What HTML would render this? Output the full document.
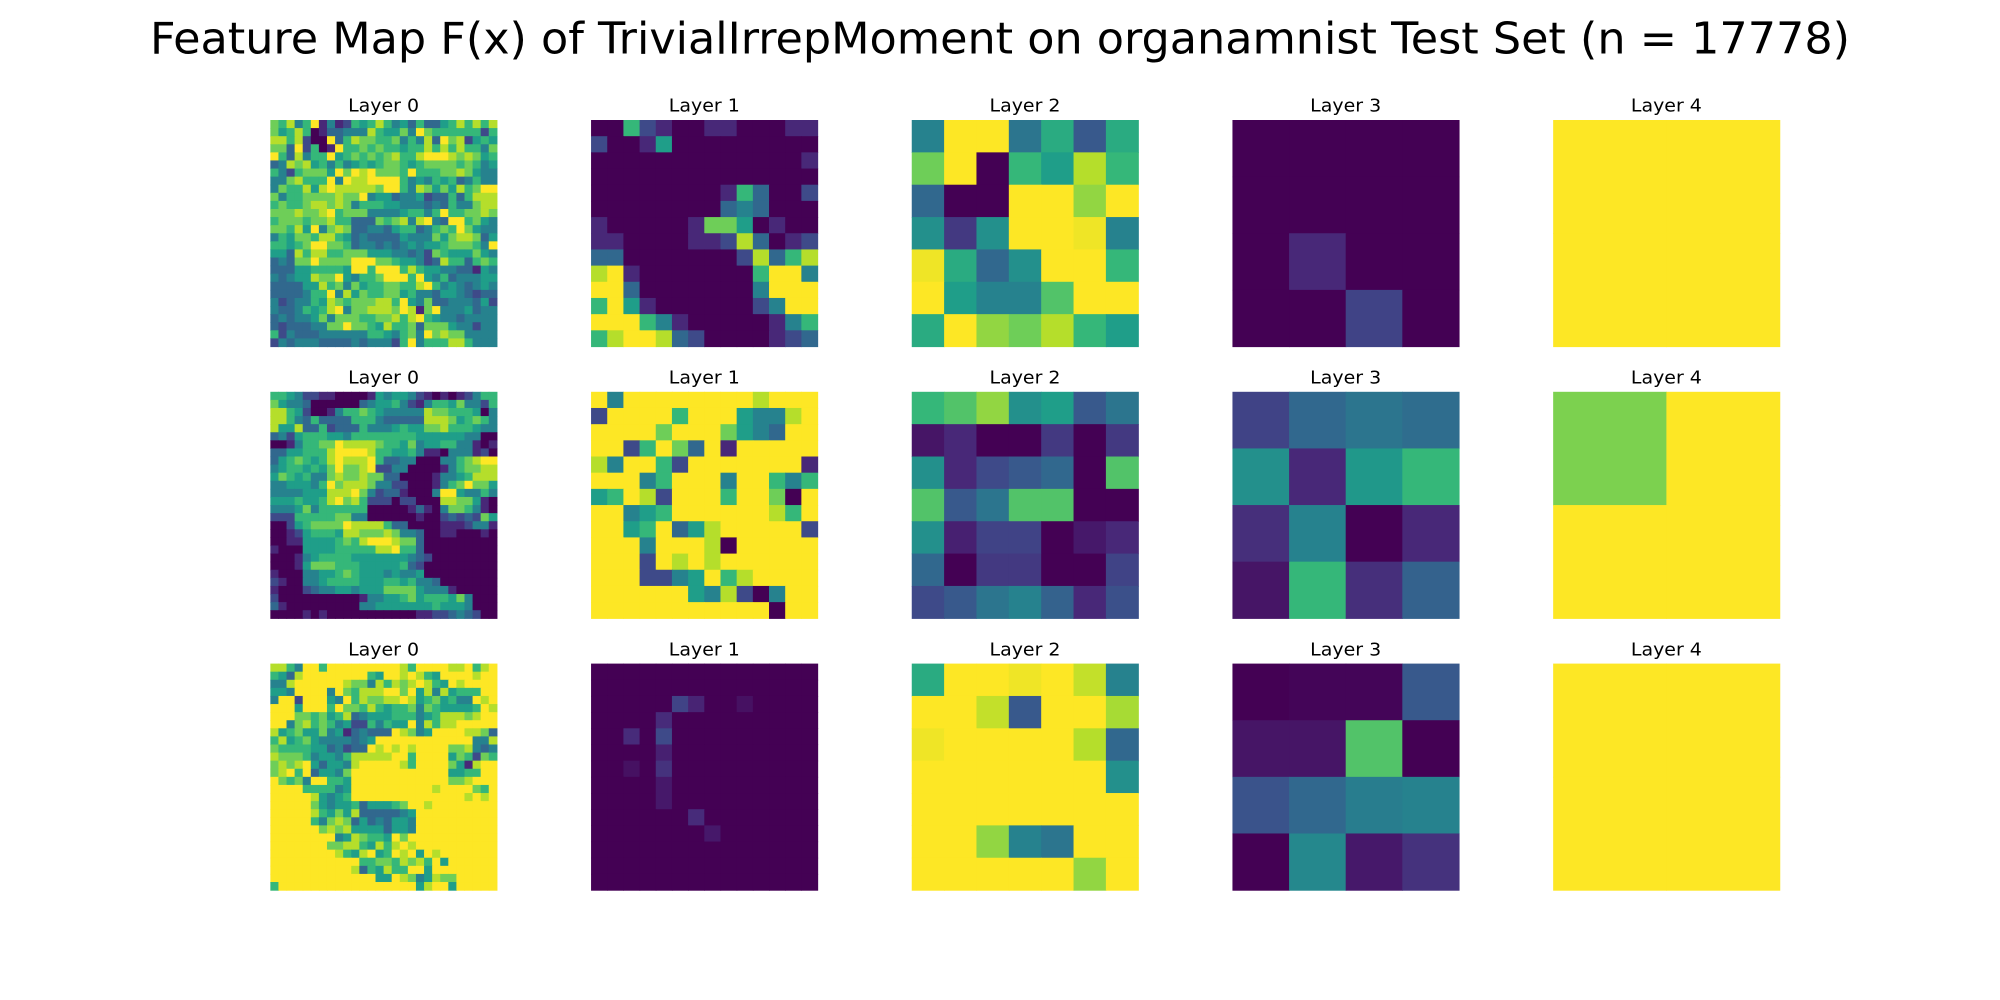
<!DOCTYPE html>
<html><head><meta charset="utf-8">
<style>html,body{margin:0;padding:0;background:#fff;}svg{display:block;}</style>
</head><body>
<svg id="fig" xmlns="http://www.w3.org/2000/svg" width="2000" height="1000" viewBox="0 0 2000 1000">
<rect width="2000" height="1000" fill="#fff"/>
<text x="1000" y="53.3" text-anchor="middle" font-family="DejaVu Sans, Liberation Sans, sans-serif" font-size="43.4" fill="#000" textLength="1700" lengthAdjust="spacingAndGlyphs">Feature Map F(x) of TrivialIrrepMoment on organamnist Test Set (n = 17778)</text>
</svg>
<script>
// Values on a 0..9 scale (digit strings per row)
const r0l0 = ["7684691412656864536335686868","7568601334448655749766666626","8868200936877667464839782565","7739260196676766566868686647","9638466956767678668999878756","3487856464565677656777767645","6426777597989777696667787544","4478666949889999645465634644","4766858988888799648757586799","7466777787794553445233636888","6766788787466655444343644788","7778778967774444566469667787","6777677866333767848943996754","7768594787334435663467697544","4657768865343333544475788735","6656799776344343454556777649","5538688667775554434276555754","3437797777999776554238663676","3335566665996999686554433154","4345587795466799969546344455","3333558674756677668964543454","3333466948576677564435543233","4234465876777886954733444352","4334656894778887981794445344","3434457477766778689654434444","3233344779776586673777544244","6243334444446654674978774444","2434443333434442694666886444"];
const r1l0 = ["6654221100001545542101012466","7544300000034556421466574426","8865200146676544444877666504","8864363333666433333888756764","8558336233364445655778666544","3425666554666666665555554400","0014667798888766574556644101","3355666899998665564110444120","3567656898889633440004467899","4566565797789224400001467788","5765644787787733000014456888","4455546978887442200014679775","4444555888974233100049954464","5556556897862220220008877510","4445746666660000013104776410","2226666677440000001002323275","0025677779888863300001112441","0012566658877787443001100010","0011555567689998773000000000","1000555566666889663000000000","0001456666555555543200000000","0001577766655555632000000000","1000445567655545445000000000","2100445666655566564430000000","1000234455455577775444100000","2000000000014455675666574000","3100000000044555555565554000","0000101000000000001122343200"];
const r2l0 = ["8864996999999999869999889689","6538999999996599898659999899","4489999998774868789865989999","5549999497688899795848566699","4992999549687788985675644989","9995999697768656674765555698","9997767568345556664568887899","9947867645226465594868899999","8567557451343339874599998873","6856754444345999999999999448","7666655342339898989999778434","8777645546888889969999576276","7878953554899999869999751899","7896935547999999999999556699","9767499665999999999999778999","9999666645999999999989999769","9999985456999999999999998989","9999975455635556799899999999","9999986575833333459999999999","9999964787353435549999999999","9999997878555535549999999999","9999999945876659799999999999","9999999778865868989999999999","9999999986589569895989999999","9999999999966776878695999999","9999999999836586699599999999","9999999999999559874587799999","6999999999999999995899599999"];
const r0l1 = ["00621001100011","20015000000000","00000000000001","00000000000000","00000000163002","00000000343000","10000017750100","11000011283012","33000000028368","89100000006994","99300000004999","69510000002499","99964100000146","68998320000123"];
const r1l1 = ["94999999998999","29999699954489","99997999754399","99269739199999","84996299999991","99946999499646","56982999699709","99456999999869","99569358999992","99949998099999","99929898999999","99922459689999","99999954820499","99999999999099"];
const r2l1 = [
 [0,0,0,0,0,0,0,0,0,0,0,0,0,0],
 [0,0,0,0,0,0,0,0,0,0,0,0,0,0],
 [0,0,0,0,0,1.8,0.9,0,0,0.4,0,0,0,0],
 [0,0,0,0,1.1,0,0,0,0,0,0,0,0,0],
 [0,0,1.1,0,2,0,0,0,0,0,0,0,0,0],
 [0,0,0,0,0.8,0,0,0,0,0,0,0,0,0],
 [0,0,0.4,0,1.3,0,0,0,0,0,0,0,0,0],
 [0,0,0,0,0.6,0,0,0,0,0,0,0,0,0],
 [0,0,0,0,0.6,0,0,0,0,0,0,0,0,0],
 [0,0,0,0,0,0,1.1,0,0,0,0,0,0,0],
 [0,0,0,0,0,0,0,0.6,0,0,0,0,0,0],
 [0,0,0,0,0,0,0,0,0,0,0,0,0,0],
 [0,0,0,0,0,0,0,0,0,0,0,0,0,0],
 [0,0,0,0,0,0,0,0,0,0,0,0,0,0]];
const r0l2 = [[4,9,9,3.5,5.5,2.5,5.5],[7,9,0,6,5,8,6],[3,0,0,9,9,7.5,9],[4.5,1.5,4.5,9,9,8.8,4],[8.8,5.5,3,4.5,9,9,6],[9,5,4,4,6.5,9,9],[5.5,9,7.5,7,8,6,5]];
const r1l2 = [[6,6.5,7.5,4.5,5,2.5,3.5],[0.5,1,0,0,1.5,0,1.5],[4.5,1,2,2.5,3,0,6.5],[6.5,2.5,3.5,6.5,6.5,0,0],[4.5,0.8,1.8,1.8,0,0.6,1],[3,0,1.5,1.5,0,0,1.8],[2,2.5,3.5,4,2.8,1,2.2]];
const r2l2 = [[5.5,9,9,8.8,9,8.2,4],[9,9,8.2,2.5,9,9,7.8],[8.8,9,9,9,9,8,3],[9,9,9,9,9,9,4.5],[9,9,9,9,9,9,9],[9,9,7.5,4,3.5,9,9],[9,9,9,9,9,7.5,9]];
const r0l3 = [[0,0,0,0],[0,0,0,0],[0,1,0,0],[0,0,1.8,0]];
const r1l3 = [[1.8,3,3.5,3.2],[4.5,1,4.8,6],[1.2,4,0,1],[0.5,6,1.2,2.8]];
const r2l3 = [[0,0.1,0.1,2.5],[0.5,0.5,6.5,0],[2.3,3,3.8,4],[0,4.2,0.6,1.3]];
const r0l4 = [[9,9],[9,9]];
const r1l4 = [[7.2,9],[9,9]];
const r2l4 = [[9,9],[9,9]];
const layerTitles = ["Layer 0","Layer 1","Layer 2","Layer 3","Layer 4"];
const grid = [[r0l0,r0l1,r0l2,r0l3,r0l4],[r1l0,r1l1,r1l2,r1l3,r1l4],[r2l0,r2l1,r2l2,r2l3,r2l4]];

const VIR = ["#440154","#482878","#3e4a89","#31688e","#26828e","#1f9e89","#35b779","#6ece58","#b5de2b","#fde725"];
function hex(h){return [parseInt(h.substr(1,2),16),parseInt(h.substr(3,2),16),parseInt(h.substr(5,2),16)];}
function viridis(v){ // v in 0..9
  v=Math.max(0,Math.min(9,v)); const i=Math.min(8,Math.floor(v)); const t=v-i;
  const a=hex(VIR[i]), b=hex(VIR[i+1]);
  return "rgb("+a.map((x,k)=>Math.round(x+(b[k]-x)*t)).join(",")+")";
}
const NS="http://www.w3.org/2000/svg";
const svg=document.getElementById("fig");
const X0=270.35, DX=320.7, Y0=120, DY=271.8, S=226.5;
function rowVals(r){return typeof r==="string"? r.split("").map(Number) : r;}
for(let gr=0;gr<3;gr++){
  for(let gc=0;gc<5;gc++){
    const data=grid[gr][gc];
    const px=X0+gc*DX, py=Y0+gr*DY;
    const g=document.createElementNS(NS,"g");
    
    
    const n=data.length, cs=S/n;
    for(let i=0;i<n;i++){
      const vals=rowVals(data[i]);
      for(let j=0;j<vals.length;j++){
        const rc=document.createElementNS(NS,"rect");
        
        
        rc.setAttribute("x",(px+j*cs).toFixed(2));
        rc.setAttribute("y",(py+i*cs).toFixed(2));
        rc.setAttribute("width",(cs+0.6).toFixed(2));
        rc.setAttribute("height",(cs+0.6).toFixed(2));
        rc.setAttribute("fill",viridis(vals[j]));
        g.appendChild(rc);
      }
    }
    svg.appendChild(g);
    const t=document.createElementNS(NS,"text");
    
    
    t.setAttribute("x",(px+S/2).toFixed(2));
    t.setAttribute("y",(py-8.3).toFixed(2));
    t.setAttribute("text-anchor","middle");
    t.setAttribute("font-family","DejaVu Sans, Liberation Sans, sans-serif");
    t.setAttribute("font-size","17.5");
    t.setAttribute("textLength","71");
    t.setAttribute("lengthAdjust","spacingAndGlyphs");
    t.textContent=layerTitles[gc];
    svg.appendChild(t);
  }
}
</script>
</body></html>
